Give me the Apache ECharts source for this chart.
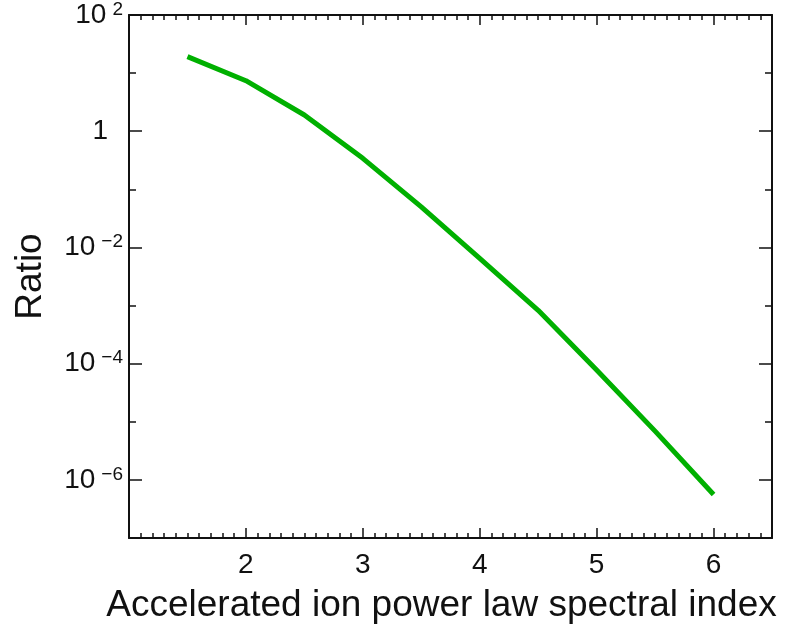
<!DOCTYPE html>
<html>
<head>
<meta charset="utf-8">
<script src="https://cdn.jsdelivr.net/npm/echarts@6/dist/echarts.min.js"></script>
<style>html,body{margin:0;padding:0;background:#fff}#c{width:788px;height:625px}</style>
</head>
<body>
<div id="c"></div>
<script>
// Data
const spectralIndex = [1.5, 2, 2.5, 3, 3.5, 4, 4.5, 5, 5.5, 6];
const ratio = [19.2, 7.4, 1.9, 0.342, 0.050, 0.0065, 8.3e-4, 7.8e-5, 6.9e-6, 5.6e-7];

// Axis ticks
const xMajorTicks = [2, 3, 4, 5, 6];
const yLabelTicks = [1e2, 1, 1e-2, 1e-4, 1e-6];
const yMinorTicks = [1e1, 1e-1, 1e-3, 1e-5];
const xMin = 1, xMax = 6.5, yMin = 1e-7, yMax = 1e2;

const xMinorTicks = [];
for (let i = 11; i < 65; i++) { if (i % 10 !== 0) xMinorTicks.push(i / 10); }

const FONT = 'Liberation Sans, Arial, Helvetica, sans-serif';
const INK = '#111111';

function yFmt(v) {
  const e = Math.round(Math.log10(v));
  if (e === 0) return '{one|1}';
  const s = e < 0 ? '\u2212' + (-e) : String(e);
  return '{b|10}{sup|' + s + '}';
}
const yRich = {
  b: { fontSize: 28, fontFamily: FONT, color: INK, lineHeight: 30 },
  one: { fontSize: 28, fontFamily: FONT, color: INK, lineHeight: 30, padding: [0, 15, 0, 0] },
  sup: { fontSize: 19, fontFamily: FONT, color: INK, verticalAlign: 'top', lineHeight: 19, padding: [0, 0, 4, 6] }
};

function xAxisDef(pos, ticks, len, labels, name, line) {
  return {
    type: 'value', position: pos, gridIndex: 0, min: xMin, max: xMax,
    name: name,
    nameLocation: 'middle', nameGap: 49,
    nameTextStyle: { fontSize: 37, fontFamily: FONT, color: INK, padding: [0, 18, 0, 0] },
    axisLine: { show: line, onZero: false, lineStyle: { color: INK, width: 2 } },
    axisTick: { show: true, inside: true, length: len, customValues: ticks, lineStyle: { color: INK, width: 1.5 } },
    axisLabel: labels ? { show: true, customValues: labels, margin: 13, fontSize: 28, fontFamily: FONT, color: INK } : { show: false },
    splitLine: { show: false }, minorTick: { show: false }
  };
}
function yAxisDef(pos, ticks, len, labels, name, line) {
  return {
    type: 'log', logBase: 10, position: pos, gridIndex: 0, min: yMin, max: yMax,
    name: name,
    nameLocation: 'middle', nameGap: 80,
    nameTextStyle: { fontSize: 37, fontFamily: FONT, color: INK },
    axisLine: { show: line, onZero: false, lineStyle: { color: INK, width: 2 } },
    axisTick: { show: true, inside: true, length: len, customValues: ticks, lineStyle: { color: INK, width: 1.5 } },
    axisLabel: labels ? { show: true, customValues: labels, margin: 6, formatter: yFmt, rich: yRich } : { show: false },
    splitLine: { show: false }, minorTick: { show: false }
  };
}

const chart = echarts.init(document.getElementById('c'), null, { renderer: 'canvas' });
chart.setOption({
  backgroundColor: '#fff',
  animation: false,
  grid: { left: 129, right: 16, top: 15, bottom: 87, containLabel: false, outerBoundsMode: 'none' },
  xAxis: [
    xAxisDef('bottom', xMajorTicks, 10, xMajorTicks, 'Accelerated ion power law spectral index', true),
    xAxisDef('top', xMajorTicks, 10, null, '', true),
    xAxisDef('bottom', xMinorTicks, 5, null, '', false),
    xAxisDef('top', xMinorTicks, 5, null, '', false)
  ],
  yAxis: [
    yAxisDef('left', yLabelTicks, 13, yLabelTicks, 'Ratio', true),
    yAxisDef('right', yLabelTicks, 13, null, '', true),
    yAxisDef('left', yMinorTicks, 7, null, '', false),
    yAxisDef('right', yMinorTicks, 7, null, '', false)
  ],
  series: [{
    type: 'line', xAxisIndex: 0, yAxisIndex: 0,
    data: spectralIndex.map((x, i) => [x, ratio[i]]),
    showSymbol: false, symbol: 'none',
    lineStyle: { color: '#00b000', width: 5, join: 'round', cap: 'butt' }
  }]
});
</script>
</body>
</html>
